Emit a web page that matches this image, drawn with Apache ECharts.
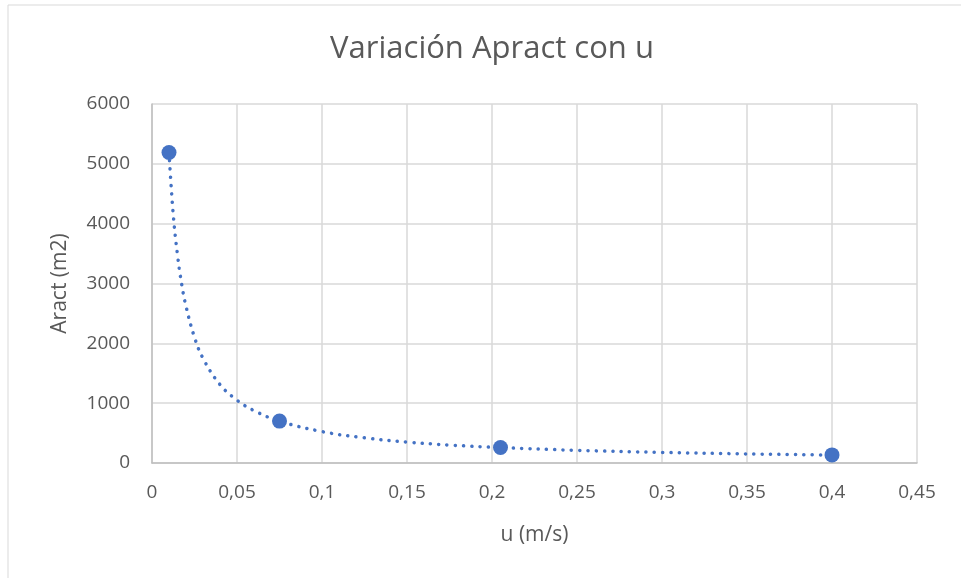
<!DOCTYPE html>
<html>
<head>
<meta charset="utf-8">
<script src="https://cdn.jsdelivr.net/npm/echarts@6/dist/echarts.min.js"></script>
<style>
  html, body { margin: 0; padding: 0; background: #fff; }
  #chart { width: 961px; height: 578px; }
</style>
</head>
<body>
<div id="chart"></div>
<script>
// puntos medidos (u en m/s, Aract en m2)
const uValues = [0.01, 0.075, 0.205, 0.4]
const aractValues = [5190, 700, 260, 135]

// línea de tendencia
const trendU = [0.01, 0.0125, 0.015, 0.0175, 0.02, 0.025, 0.03, 0.04, 0.05, 0.06, 0.075, 0.1, 0.125, 0.15, 0.175, 0.205, 0.25, 0.3, 0.35, 0.4]
const trendA = [5190, 4150, 3480, 2980, 2620, 2100, 1750, 1310, 1050, 875, 700, 525, 420, 350, 300, 258, 212, 177, 152, 133]

const fontFam = '"Open Sans", "Noto Sans", sans-serif'
const textColor = '#595959'

const chart = echarts.init(document.getElementById('chart'))

const option = {
  animation: false,
  backgroundColor: '#fff',
  textStyle: { fontFamily: fontFam },
  graphic: [{
    type: 'rect',
    shape: { x: 8, y: 5, width: 980, height: 600 },
    style: { fill: 'none', stroke: '#d9d9d9', lineWidth: 1 },
    silent: true
  }],
  title: {
    text: 'Variación Apract con u',
    left: 487,
    top: 29,
    textAlign: 'center',
    textStyle: { fontFamily: fontFam, fontSize: 31, fontWeight: 'normal', color: textColor }
  },
  grid: { left: 152, right: 44, top: 104, bottom: 115 },
  xAxis: {
    type: 'value',
    min: 0,
    max: 0.45,
    interval: 0.05,
    name: 'u (m/s)',
    nameLocation: 'middle',
    nameGap: 62,
    nameTextStyle: { fontSize: 21, color: textColor },
    axisLine: { lineStyle: { color: '#bfbfbf', width: 1.5 } },
    axisTick: { show: false },
    axisLabel: {
      fontSize: 19,
      color: textColor,
      margin: 20,
      formatter: v => String(Math.round(v * 100) / 100).replace('.', ',')
    },
    splitLine: { show: true, lineStyle: { color: '#d9d9d9', width: 1.5 } }
  },
  yAxis: {
    type: 'value',
    min: 0,
    max: 6000,
    interval: 1000,
    name: 'Aract (m2)',
    nameLocation: 'middle',
    nameGap: 81,
    nameTextStyle: { fontSize: 21, color: textColor },
    axisLine: { show: true, lineStyle: { color: '#bfbfbf', width: 1.5 } },
    axisTick: { show: false },
    axisLabel: { fontSize: 19, color: textColor, margin: 22, formatter: v => String(v) },
    splitLine: { show: true, lineStyle: { color: '#d9d9d9', width: 1.5 } }
  },
  series: [
    {
      name: 'tendencia',
      type: 'line',
      smooth: 0.4,
      symbol: 'none',
      data: trendU.map((u, i) => [u, trendA[i]]),
      lineStyle: { color: '#4472C4', width: 3.5, type: [0.1, 8.2], cap: 'round' },
      z: 2
    },
    {
      name: 'Aract',
      type: 'scatter',
      symbolSize: 15,
      data: uValues.map((u, i) => [u, aractValues[i]]),
      itemStyle: { color: '#4472C4', opacity: 1 },
      z: 3
    }
  ]
}

chart.setOption(option)
</script>
</body>
</html>
